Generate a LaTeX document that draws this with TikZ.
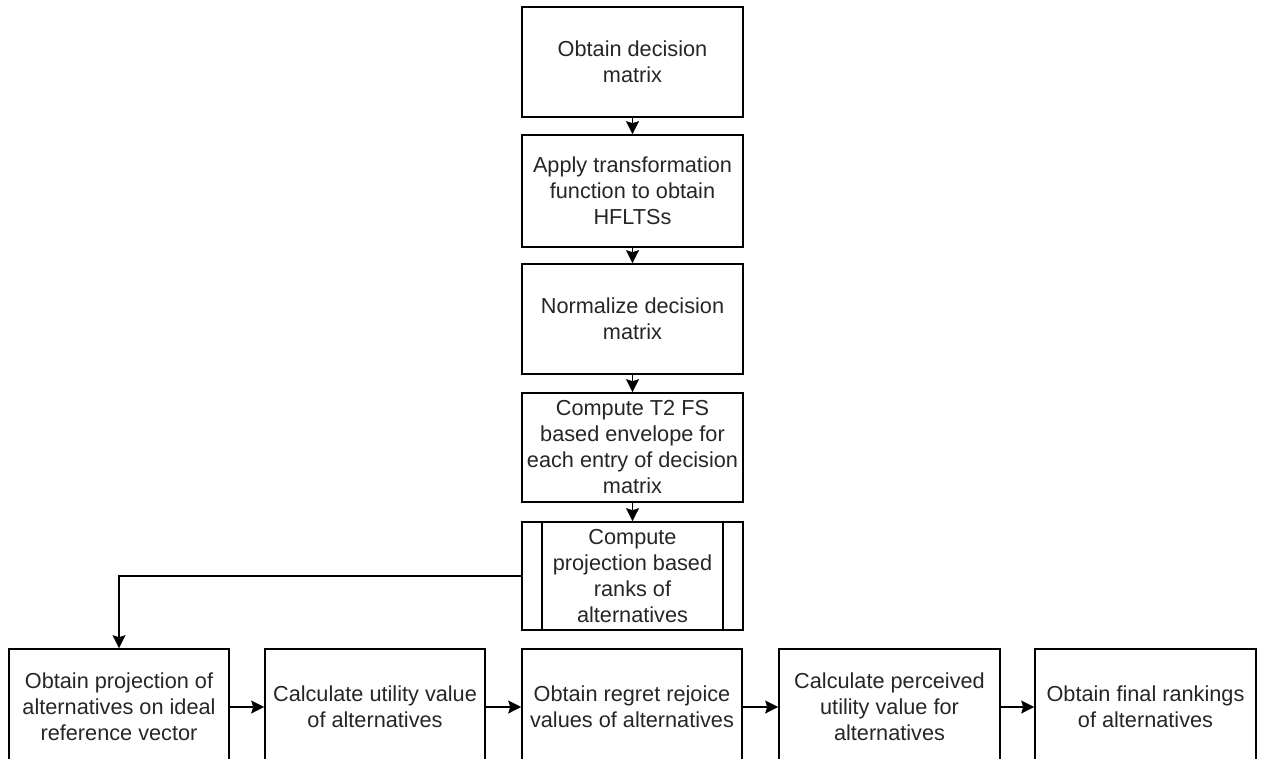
\documentclass[tikz,border=0pt]{standalone}
\usepackage{fontspec}
\setmainfont{Liberation Sans}
\usetikzlibrary{arrows.meta,positioning}
\begin{document}
\begin{tikzpicture}[x=1pt,y=-1pt,
  box/.style={draw=black,line width=1.6pt,fill=white,minimum width=221pt,align=center,inner sep=0pt,
    font=\fontsize{21.7pt}{26pt}\selectfont,text=black!85},
  arr/.style={line width=1.4pt,-{Stealth[length=13pt,width=13pt,inset=2pt,line width=0.5pt]}}]
\clip (0,0) rectangle (1261,759);
\fill[white] (0,0) rectangle (1261,759);
\node[box,minimum height=110pt] (b1) at (632.5,62) {Obtain decision\\matrix};
\node[box,minimum height=112pt] (b2) at (632.5,191) {Apply transformation\\function to obtain\\HFLTSs};
\node[box,minimum height=110pt] (b3) at (632.5,319) {Normalize decision\\matrix};
\node[box,minimum height=109pt] (b4) at (632.5,447.5) {Compute T2 FS\\based envelope for\\each entry of decision\\matrix};
\node[box,minimum height=108pt] (b5) at (632.5,576) {Compute\\projection based\\ranks of\\alternatives};
\draw[line width=1.6pt] ([xshift=21pt]b5.north west) -- ([xshift=21pt]b5.south west)
  ([xshift=-21pt]b5.north east) -- ([xshift=-21pt]b5.south east);
\node[box,minimum height=116pt,minimum width=220pt] (a) at (119,707) {Obtain projection of\\alternatives on ideal\\reference vector};
\node[box,minimum height=116pt,minimum width=220pt] (b) at (375,707) {Calculate utility value\\of alternatives};
\node[box,minimum height=116pt,minimum width=220pt] (c) at (632,707) {Obtain regret rejoice\\values of alternatives};
\node[box,minimum height=116pt,minimum width=221pt] (d) at (889.5,707) {Calculate perceived\\utility value for\\alternatives};
\node[box,minimum height=116pt,minimum width=221pt] (e) at (1145.5,707) {Obtain final rankings\\of alternatives};
\draw[arr] (b1) -- (b2);
\draw[arr] (b2) -- (b3);
\draw[arr] (b3) -- (b4);
\draw[arr] (b4) -- (b5);
\draw[arr] (b5.west) -| (a.north);
\draw[arr] (a) -- (b);
\draw[arr] (b) -- (c);
\draw[arr] (c) -- (d);
\draw[arr] (d) -- (e);
\end{tikzpicture}
\end{document}
